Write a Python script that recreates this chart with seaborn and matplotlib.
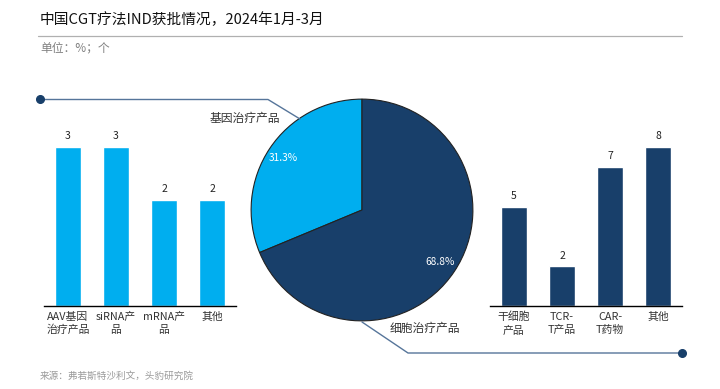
import matplotlib
matplotlib.use("Agg")
import pandas as pd
import seaborn as sns
import matplotlib.pyplot as plt
from matplotlib.lines import Line2D

# data
gene_cats = ["AAV基因\n治疗产品", "siRNA产\n品", "mRNA产\n品", "其他"]
gene_vals = [3, 3, 2, 2]
cell_cats = ["干细胞\n产品", "TCR-\nT产品", "CAR-\nT药物", "其他"]
cell_vals = [5, 2, 7, 8]
pie_labels = ["基因治疗产品", "细胞治疗产品"]
pie_pct = [31.3, 68.8]

LIGHT = "#00AEEF"
DARK = "#183F6A"
LINE = "#56759A"

sns.set_theme(style="white")
plt.rcParams["font.family"] = ["Noto Sans CJK SC", "DejaVu Sans"]

W, H = 720, 389
fig = plt.figure(figsize=(7.2, 3.89), dpi=100)


def fx(px):
    return px / W


def fy(py):
    return 1 - py / H


# header
fig.text(fx(40), fy(20), "中国CGT疗法IND获批情况，2024年1月-3月", fontsize=10.6,
         color="#111111", va="center", ha="left", weight="medium")
fig.add_artist(Line2D([fx(38), fx(682)], [fy(36), fy(36)], color="#b0b0b0", lw=0.9,
                      transform=fig.transFigure))
fig.text(fx(40), fy(48), "单位：%；个", fontsize=8.5, color="#808080", va="center",
         ha="left", style="italic")
fig.text(fx(40), fy(376), "来源：弗若斯特沙利文，头豹研究院", fontsize=6.9,
         color="#9a9a9a", va="center", ha="left")


def bar_panel(left_px, cats, vals, color, px_per_unit):
    top_units = 3.6 if max(vals) <= 3 else 9
    height_px = top_units * px_per_unit
    ax = fig.add_axes([fx(left_px), fy(306), fx(192), height_px / H])
    df = pd.DataFrame({"cat": cats, "val": vals})
    sns.barplot(data=df, x="cat", y="val", color=color, width=0.56, saturation=1,
                ax=ax)
    ax.set_xlim(-0.5, 3.5)
    ax.set_ylim(0, top_units)
    for i, v in enumerate(vals):
        ax.text(i, v + 0.03 * top_units, str(v), ha="center", va="bottom",
                fontsize=7.5, color="#222222")
    sns.despine(ax=ax, left=True, top=True, right=True)
    ax.spines["bottom"].set_color("black")
    ax.spines["bottom"].set_linewidth(1.0)
    ax.set_yticks([])
    ax.set_xlabel("")
    ax.set_ylabel("")
    ax.tick_params(axis="x", length=0, pad=4, labelsize=7.8, labelcolor="#333333")
    for t in ax.get_xticklabels():
        t.set_linespacing(1.4)
        t.set_va("top")
    ax.patch.set_alpha(0)
    return ax


bar_panel(44, gene_cats, gene_vals, LIGHT, 53)
bar_panel(490, cell_cats, cell_vals, DARK, 19.9)

# pie
pax = fig.add_axes([fx(250), fy(322), fx(224), 224 / H])
pct_iter = iter(pie_pct)
wedges, texts, autotexts = pax.pie(
    pie_pct, colors=[LIGHT, DARK], startangle=90, counterclock=True,
    autopct=lambda p: f"{next(pct_iter):.1f}%", pctdistance=0.85,
    wedgeprops=dict(edgecolor="#222222", linewidth=0.8),
    textprops=dict(color="white", fontsize=7.3))
pax.set_xlim(-1.01, 1.01)
pax.set_ylim(-1.01, 1.01)
pax.set_aspect("equal")

# leader lines and labels
fig.add_artist(Line2D([fx(40), fx(268), fx(300)], [fy(99.5), fy(99.5), fy(119)],
                      color=LINE, lw=1.0, transform=fig.transFigure))
fig.add_artist(Line2D([fx(40)], [fy(99.5)], marker="o", markersize=5.5, color=DARK,
                      transform=fig.transFigure))
fig.add_artist(Line2D([fx(362), fx(408), fx(682)], [fy(322), fy(353), fy(353)],
                      color=LINE, lw=1.0, transform=fig.transFigure))
fig.add_artist(Line2D([fx(682)], [fy(353)], marker="o", markersize=5.5, color=DARK,
                      transform=fig.transFigure))
fig.text(fx(210), fy(118), pie_labels[0], fontsize=8.5, color="#333333",
         va="center", ha="left")
fig.text(fx(390), fy(328), pie_labels[1], fontsize=8.5, color="#333333",
         va="center", ha="left")

fig.savefig("out.png", dpi=100)
